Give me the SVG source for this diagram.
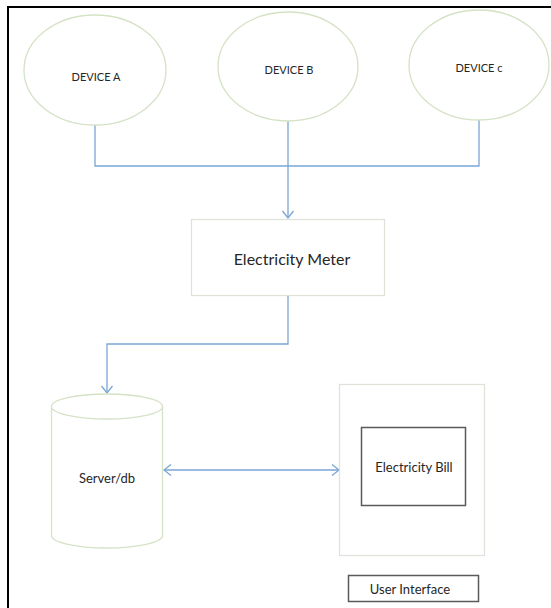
<svg xmlns="http://www.w3.org/2000/svg" width="551" height="608" viewBox="0 0 551 608">
<style>
text{font-family:Lato,"Liberation Sans",sans-serif;fill:#262626;text-anchor:middle;dominant-baseline:central}
.dev{fill:#fff;stroke:#d5e2c6;stroke-width:1.3}
.dl{font-size:11px}
.conn{fill:none;stroke:#7aa6d6;stroke-width:1.3}
.light{fill:#fff;stroke:#dfe4da;stroke-width:1.3}
.dark{fill:#fff;stroke:#5a5a5a;stroke-width:1.5}
.mid{font-size:13px}
</style>
<defs>
<marker id="ah" markerUnits="userSpaceOnUse" markerWidth="16" markerHeight="16" viewBox="-9 -8 12 16" refX="0" refY="0" orient="auto-start-reverse">
<path d="M-7,-5.5 L0,0 L-7,5.5" fill="none" stroke="#7aa6d6" stroke-width="1.3"/>
</marker>
</defs>
<rect width="551" height="608" fill="#fff"/>
<path d="M8,608 V7 H551" fill="none" stroke="#000" stroke-width="2"/>
<g id="connectors">
<path class="conn" d="M95,125 V166 H479 V120"/>
<path class="conn" d="M288,121 V218" marker-end="url(#ah)"/>
<path class="conn" d="M288,296 V344 H107 V393" marker-end="url(#ah)"/>
<path class="conn" d="M164,470 H339" marker-start="url(#ah)" marker-end="url(#ah)"/>
</g>
<g id="deviceA"><ellipse class="dev" cx="95" cy="70" rx="71" ry="55"/><text class="dl" x="96" y="76">DEVICE A</text></g>
<g id="deviceB"><ellipse class="dev" cx="288" cy="66.5" rx="70" ry="54.5"/><text class="dl" x="289" y="69">DEVICE B</text></g>
<g id="deviceC"><ellipse class="dev" cx="479" cy="65" rx="70" ry="55"/><text class="dl" x="479" y="67">DEVICE c</text></g>
<g id="meter"><rect class="light" x="191.5" y="219.5" width="193" height="76"/><text x="292" y="258" font-size="16">Electricity Meter</text></g>
<g id="server">
<path class="dev" d="M51.5,406.5 V535.5 A55.5,12.5 0 0 0 162.5,535.5 V406.5"/>
<ellipse class="dev" cx="107" cy="406.5" rx="55.5" ry="12.5"/>
<text class="mid" x="107" y="478">Server/db</text>
</g>
<g id="userInterface">
<rect class="light" x="339.5" y="384.5" width="145" height="171"/>
<rect class="dark" x="361.5" y="427.5" width="104" height="78"/>
<text class="mid" x="414" y="467">Electricity Bill</text>
</g>
<g id="uiLabel"><rect class="dark" x="348.5" y="575.5" width="130" height="26"/><text class="mid" x="410" y="589">User Interface</text></g>
</svg>
